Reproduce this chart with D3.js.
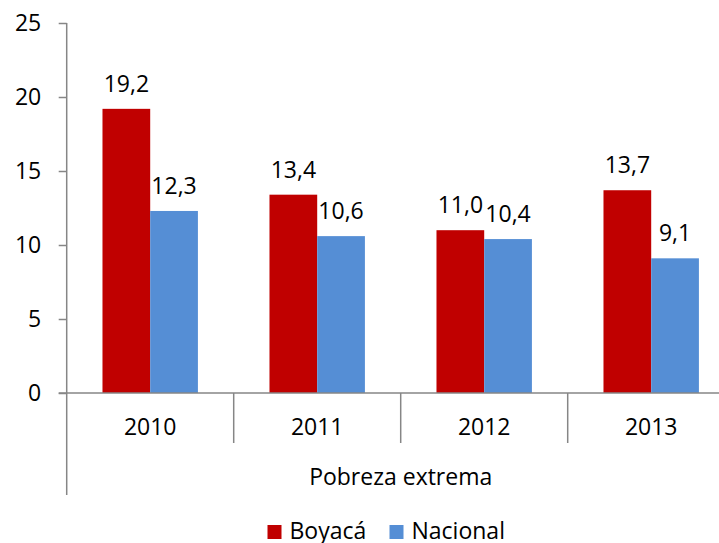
<!DOCTYPE html>
<html>
<head>
<meta charset="utf-8">
<script src="https://cdn.jsdelivr.net/npm/d3@7"></script>
<style>
  html, body { margin: 0; padding: 0; background: #fff; }
  svg { display: block; }
  text { font-family: "Open Sans", "Noto Sans", sans-serif; fill: #000; }
</style>
</head>
<body>
<svg id="chart" width="719" height="543"></svg>
<script>
// Pobreza extrema (%), Boyacá vs. Nacional
const years = ["2010", "2011", "2012", "2013"];
const boyaca = [19.2, 13.4, 11.0, 13.7];
const nacional = [12.3, 10.6, 10.4, 9.1];
const seriesNames = ["Boyacá", "Nacional"];
const seriesColors = ["#C00000", "#558ED5"];
const yTicks = [0, 5, 10, 15, 20, 25];
const groupLabel = "Pobreza extrema";

const svg = d3.select("#chart");
const plotLeft = 66.7, plotTop = 23, plotBottom = 393;
const bandW = 167;
const plotRight = plotLeft + bandW * years.length;

const x = d3.scaleBand().domain(years).range([plotLeft, plotRight]).paddingInner(0).paddingOuter(0);
const inner = d3.scaleBand().domain(seriesNames).range([0, x.bandwidth()]).paddingInner(0).paddingOuter(0.75);
const y = d3.scaleLinear().domain([0, 25]).range([plotBottom, plotTop]);

const axisColor = "#868686";
const fs = "23px";
const fmt = v => v.toFixed(1).replace(".", ",");

// Bars with value labels
const series = [boyaca, nacional];
series.forEach((vals, si) => {
  svg.append("g").selectAll("rect").data(years).join("rect")
    .attr("x", d => x(d) + inner(seriesNames[si]))
    .attr("y", (d, i) => y(vals[i]))
    .attr("width", inner.bandwidth())
    .attr("height", (d, i) => y(0) - y(vals[i]))
    .attr("fill", seriesColors[si]);
  svg.append("g").selectAll("text").data(years).join("text")
    .attr("x", d => x(d) + inner(seriesNames[si]) + inner.bandwidth() / 2)
    .attr("y", (d, i) => y(vals[i]) - 17)
    .attr("text-anchor", "middle")
    .style("font-size", fs)
    .text((d, i) => fmt(vals[i]));
});

// Y axis
const yAxis = d3.axisLeft(y).tickValues(yTicks).tickSize(8).tickPadding(17.5).tickFormat(d3.format("d"));
const gy = svg.append("g").attr("transform", `translate(${plotLeft},0)`).call(yAxis);
gy.select(".domain").remove();
gy.selectAll(".tick line").attr("stroke", axisColor).attr("stroke-width", 1.5);
gy.selectAll(".tick text").style("font-size", fs).attr("fill", "#000").attr("font-family", null);
svg.append("line").attr("x1", plotLeft).attr("x2", plotLeft).attr("y1", plotTop).attr("y2", 495)
  .attr("stroke", axisColor).attr("stroke-width", 1.5);

// X axis baseline and category dividers
svg.append("line").attr("x1", plotLeft - 8).attr("x2", plotRight).attr("y1", plotBottom).attr("y2", plotBottom)
  .attr("stroke", axisColor).attr("stroke-width", 1.5);
svg.append("g").selectAll("line").data(years).join("line")
  .attr("x1", (d, i) => plotLeft + bandW * (i + 1))
  .attr("x2", (d, i) => plotLeft + bandW * (i + 1))
  .attr("y1", plotBottom).attr("y2", 443)
  .attr("stroke", axisColor).attr("stroke-width", 1.5);

svg.append("g").selectAll("text").data(years).join("text")
  .attr("x", d => x(d) + x.bandwidth() / 2)
  .attr("y", 435)
  .attr("text-anchor", "middle")
  .style("font-size", fs)
  .text(d => d);

svg.append("text")
  .attr("x", (plotLeft + plotRight) / 2)
  .attr("y", 485)
  .attr("text-anchor", "middle")
  .style("font-size", fs)
  .text(groupLabel);

// Legend
const legendX = [267.5, 389.5];
const lg = svg.append("g");
seriesNames.forEach((name, i) => {
  lg.append("rect").attr("x", legendX[i]).attr("y", 525).attr("width", 14).attr("height", 14)
    .attr("fill", seriesColors[i]);
  lg.append("text").attr("x", legendX[i] + 22).attr("y", 539)
    .style("font-size", fs).text(name);
});
</script>
</body>
</html>
